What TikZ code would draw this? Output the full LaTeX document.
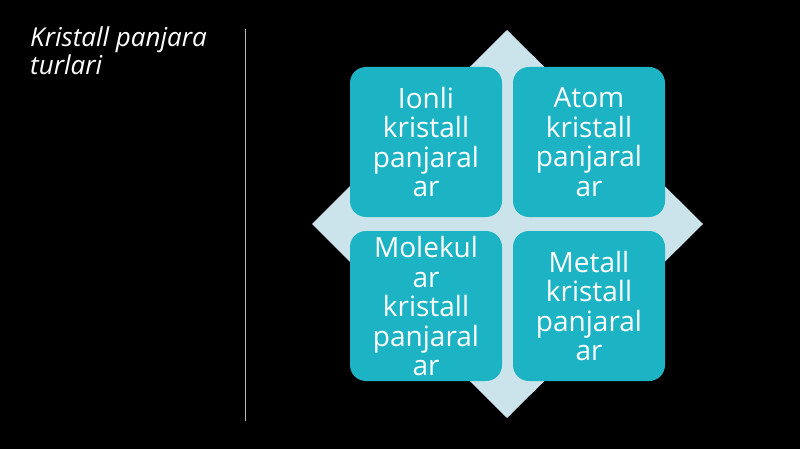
\documentclass[tikz,border=0pt]{standalone}
\usepackage{fontspec}
\setmainfont{Open Sans}
\definecolor{teal1}{HTML}{1CB3C5}
\definecolor{diam}{HTML}{CBE4EB}
\definecolor{rule}{HTML}{B8B8B8}
\begin{document}
\begin{tikzpicture}[x=1pt,y=-1pt,
  cell/.style={draw=none, fill=teal1, rounded corners=16pt, minimum width=152pt, minimum height=150pt,
    inner sep=0pt, text=white, align=center, text width=150pt,
    font=\fontsize{28}{29.5}\selectfont},
  title/.style={text=white, anchor=north west, align=left, inner sep=0pt,
    font=\itshape\fontsize{26}{28}\selectfont}]
\fill[black] (0,0) rectangle (800,449);
\useasboundingbox (0,0) rectangle (800,449);
% diamond
\coordinate (dt) at (507,30);
\coordinate (dr) at (703,224);
\coordinate (db) at (507,418);
\coordinate (dl) at (312,224);
\fill[diam] (dt) -- (dr) -- (db) -- (dl) -- cycle;
% rule
\coordinate (rt) at (245.5,29);
\coordinate (rb) at (245.5,421);
\draw[rule, line width=1.3pt] (rt) -- (rb);
% title
\node[title] (ttl) at (30,27) {Kristall panjara\\turlari};
% cells
\node[cell] (ion) at (426,142) {Ionli\\kristall\\panjaral\\ar};
\node[cell] (atom) at (589,142) {Atom\\kristall\\panjaral\\ar};
\node[cell] (mol) at (426,306) {Molekul\\ar\\kristall\\panjaral\\ar};
\node[cell] (met) at (589,306) {Metall\\kristall\\panjaral\\ar};
\end{tikzpicture}
\end{document}
